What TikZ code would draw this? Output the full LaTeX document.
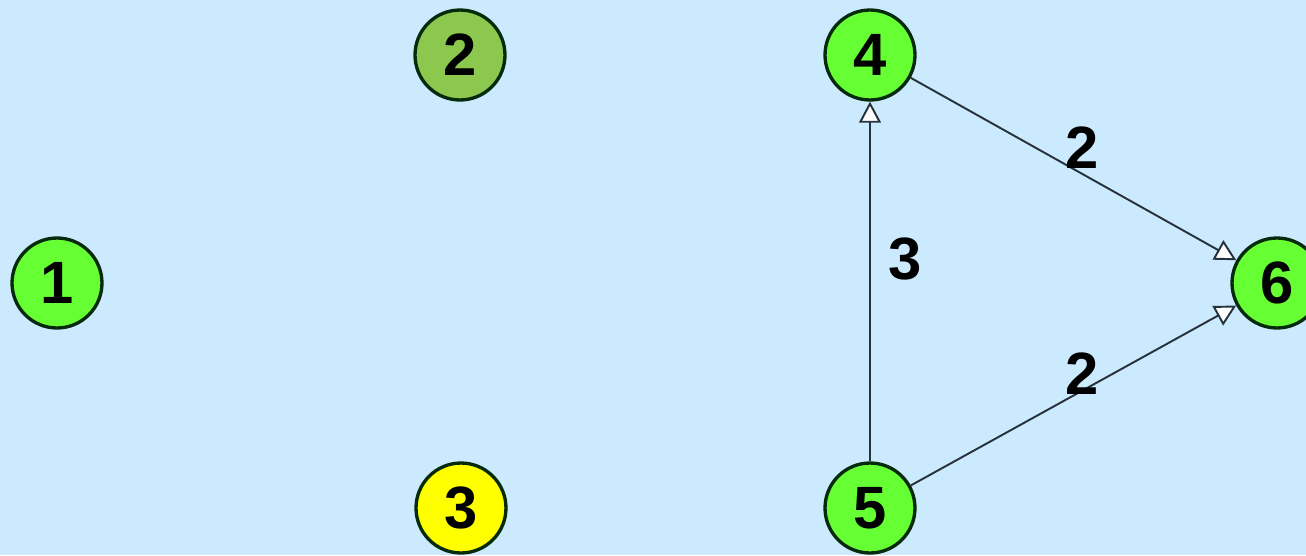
\documentclass[tikz,border=0pt]{standalone}
\usepackage{fontspec}
\setmainfont{Liberation Sans}
\usetikzlibrary{arrows.meta}
\definecolor{bgblue}{HTML}{CCEAFE}
\definecolor{vgreen}{HTML}{66FF33}
\definecolor{volive}{HTML}{8CC84E}
\definecolor{vyellow}{HTML}{FFFF00}
\definecolor{vrim}{HTML}{062A0C}
\definecolor{eline}{HTML}{26323C}

\tikzset{
  vert/.style={circle,draw=vrim,line width=1.9pt,minimum size=1.8cm,inner sep=0pt,
    font=\fontsize{34}{36}\selectfont\bfseries},
  arc/.style={draw=eline,line width=1.1pt,
    -{Triangle[open,fill=white,length=12pt,width=12.5pt]}},
  wt/.style={inner sep=0pt,font=\fontsize{34}{36}\selectfont\bfseries}
}

\begin{document}
\begin{tikzpicture}[x=0.02cm,y=-0.02cm]
\fill[bgblue](0,0)rectangle(1306,555);
\useasboundingbox(0,0)rectangle(1306,555);

\node[vert,fill=vgreen](v1)at(57,283){1};
\node[vert,fill=volive](v2)at(460,55){2};
\node[vert,fill=vyellow](v3)at(461,508){3};
\node[vert,fill=vgreen](v4)at(870,55){4};
\node[vert,fill=vgreen](v5)at(870,508){5};
\node[vert,fill=vgreen](v6)at(1277,283){6};

\draw[arc](v5)--node[wt,anchor=south west,xshift=0.36cm]{3}(v4);
\draw[arc](v4)--node[wt,anchor=south,xshift=0.18cm]{2}(v6);
\draw[arc](v5)--node[wt,anchor=south,xshift=0.18cm]{2}(v6);

\end{tikzpicture}
\end{document}
